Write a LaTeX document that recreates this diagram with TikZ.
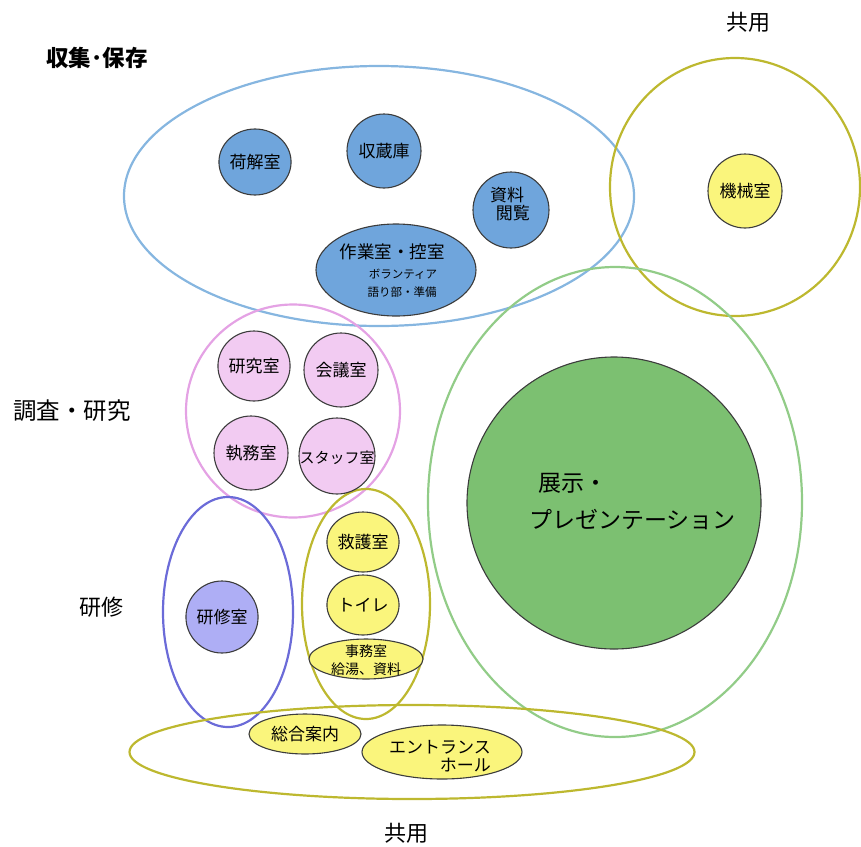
\documentclass[tikz,border=0pt]{standalone}
\usepackage{fontspec}
\setmainfont{Noto Sans CJK JP}
\usetikzlibrary{shapes.geometric}
\definecolor{grpblue}{HTML}{86B6E0}
\definecolor{roomblue}{HTML}{6FA5DC}
\definecolor{olive}{HTML}{BDB82F}
\definecolor{roomyellow}{HTML}{FAF57C}
\definecolor{grppink}{HTML}{E4A2E4}
\definecolor{roompink}{HTML}{F2CBF2}
\definecolor{grppurple}{HTML}{6B6BD8}
\definecolor{roompurple}{HTML}{AEAEF5}
\definecolor{grpgreen}{HTML}{92CC88}
\definecolor{roomgreen}{HTML}{7CC071}
\definecolor{edge}{HTML}{3C3C3C}
\tikzset{
  grp/.style={ellipse,draw=#1,line width=2.2pt,inner sep=0pt,fill=none},
  room/.style={ellipse,draw=edge,line width=1.1pt,fill=#1,inner sep=0pt,font=\fontsize{17}{18}\selectfont},
  ttl/.style={font=\fontsize{22}{24}\selectfont,inner sep=0pt},
  txt/.style={inner sep=0pt,font=\fontsize{17}{18}\selectfont}
}
\begin{document}
\begin{tikzpicture}[x=1pt,y=-1pt]
\useasboundingbox (0,0) rectangle (861,846);
% group ellipses
\node[grp=grpblue,minimum width=510pt,minimum height=260pt] (gcollect) at (379,196) {};
\node[grp=olive,minimum width=250pt,minimum height=258pt] (gmach) at (735,187) {};
\node[grp=grppink,minimum width=214pt,minimum height=213pt] (gresearch) at (293,411) {};
\node[grp=grpgreen,minimum width=374pt,minimum height=470pt] (gexhibit) at (615,502) {};
\node[grp=grppurple,minimum width=130pt,minimum height=230pt] (gtrain) at (228,612) {};
\node[grp=olive,minimum width=128pt,minimum height=230pt] (gservice) at (366,604) {};
\node[grp=olive,minimum width=565pt,minimum height=94pt] (gentrance) at (412,752) {};
% rooms: collection
\node[room=roomblue,minimum width=66pt,minimum height=66pt] (nidoki) at (255,162) {荷解室};
\node[room=roomblue,minimum width=74pt,minimum height=74pt] (shuzo) at (384,151) {収蔵庫};
\node[room=roomblue,minimum width=76pt,minimum height=76pt] (shiryo) at (511,210) {};
\node[txt,align=left] (shiryotxt) at (510,204) {資料\\\hspace{0.35em}閲覧};
\node[room=roomblue,minimum width=160pt,minimum height=92pt] (sagyo) at (396,270) {};
\node[txt,font=\fontsize{17.5}{18}\selectfont] (sagyot) at (392,252) {作業室・控室};
\node[txt,font=\fontsize{11.5}{13}\selectfont] (sagyo2) at (403,274) {ボランティア};
\node[txt,font=\fontsize{11.5}{13}\selectfont] (sagyo3) at (402,292) {語り部・準備};
% machine
\node[room=roomyellow,minimum width=74pt,minimum height=74pt] (kikai) at (745,191) {機械室};
% research
\node[room=roompink,minimum width=70pt,minimum height=70pt] (kenkyu) at (254,366) {研究室};
\node[room=roompink,minimum width=74pt,minimum height=74pt] (kaigi) at (341,370) {会議室};
\node[room=roompink,minimum width=74pt,minimum height=74pt] (shitsumu) at (251,453) {執務室};
\node[room=roompink,minimum width=76pt,minimum height=76pt] (staff) at (337,456) {};
\node[txt,font=\fontsize{15}{16}\selectfont] (stafft) at (337,458) {スタッフ室};
% exhibition
\node[room=roomgreen,minimum width=294pt,minimum height=292pt] (tenji) at (614,503) {};
\node[txt,font=\fontsize{23}{26}\selectfont,anchor=west] (tenji1) at (538,483) {展示・};
\node[txt,font=\fontsize{23}{26}\selectfont,anchor=west] (tenji2) at (529,520) {プレゼンテーション};
% training
\node[room=roompurple,minimum width=72pt,minimum height=72pt] (kenshu) at (222,617) {研修室};
% service
\node[room=roomyellow,minimum width=60pt,minimum height=60pt] (kyugo) at (363,542) {救護室};
\node[room=roomyellow,minimum width=60pt,minimum height=60pt] (toilet) at (363,605) {トイレ};
\node[room=roomyellow,minimum width=114pt,minimum height=40pt] (jimu) at (366,659) {};
\node[txt,font=\fontsize{14}{16}\selectfont] (jimu1) at (366,651) {事務室};
\node[txt,font=\fontsize{14}{16}\selectfont] (jimu2) at (366,669) {給湯、資料};
% entrance
\node[room=roomyellow,minimum width=112pt,minimum height=40pt] (annai) at (305,734) {総合案内};
\node[room=roomyellow,minimum width=160pt,minimum height=54pt] (hall) at (442,752) {};
\node[txt,align=right] (hallt) at (440,756) {エントランス\\ホール};
% titles
\node[ttl,font=\fontsize{22.5}{24}\selectfont\bfseries] (t1) at (97,58) {収集･保存};
\node[ttl] (t2) at (748,22) {共用};
\node[ttl,font=\fontsize{23.5}{26}\selectfont] (t3) at (72,411) {調査・研究};
\node[ttl] (t4) at (101,607) {研修};
\node[ttl] (t5) at (406,833) {共用};
\end{tikzpicture}
\end{document}
